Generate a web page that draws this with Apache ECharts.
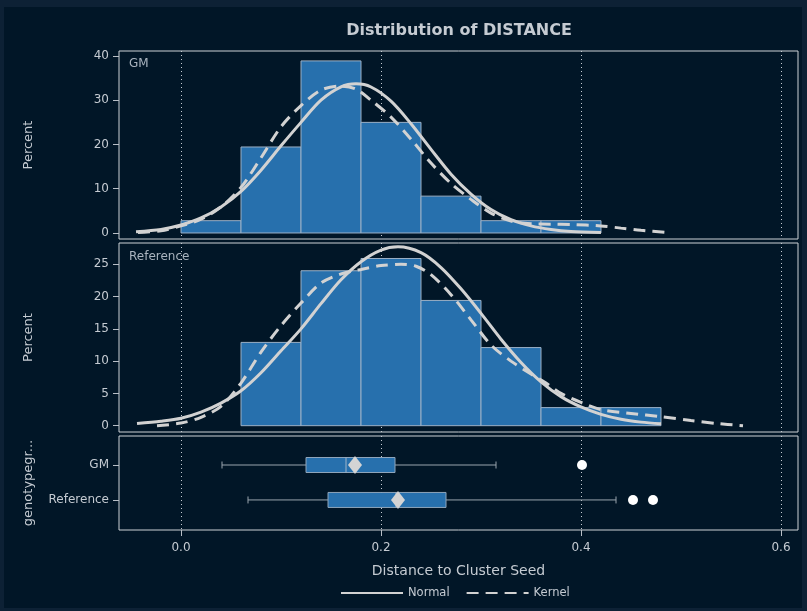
<!DOCTYPE html>
<html><head><meta charset="utf-8">
<script src="https://cdn.jsdelivr.net/npm/echarts@6/dist/echarts.min.js"></script>
<style>html,body{margin:0;padding:0;background:#0d2135}#c{width:807px;height:611px}</style>
</head><body><div id="c"></div>
<script>
// ---------- data ----------
const binEdges = [0, 0.06, 0.12, 0.18, 0.24, 0.30, 0.36, 0.42, 0.48];
const gmPercent = [2.78, 19.44, 38.89, 25.0, 8.33, 2.78, 2.78, 0];
const refPercent = [0, 12.9, 24.0, 25.9, 19.4, 12.1, 2.8, 2.8];

const gmNormal = [[-0.045,0.3],[-0.02,0.8],[0.0,1.8],[0.02,3.4],[0.04,5.9],[0.06,9.4],[0.08,14.2],[0.10,19.7],[0.12,25.0],[0.14,30.0],[0.16,33.0],[0.175,33.7],[0.19,33.0],[0.21,29.8],[0.23,24.7],[0.25,18.9],[0.27,13.3],[0.29,8.8],[0.31,5.3],[0.33,3.0],[0.35,1.6],[0.37,0.8],[0.39,0.35],[0.42,0.1]];
const gmKernel = [[-0.043,0.1],[-0.02,0.5],[0.0,1.6],[0.02,3.1],[0.04,5.9],[0.06,10.3],[0.08,17.0],[0.10,24.0],[0.12,28.8],[0.14,32.3],[0.16,33.2],[0.175,32.5],[0.19,30.0],[0.21,26.2],[0.23,21.2],[0.25,15.8],[0.27,11.2],[0.29,7.6],[0.31,4.5],[0.33,2.7],[0.35,2.1],[0.37,2.0],[0.39,1.9],[0.42,1.6],[0.44,1.1],[0.46,0.6],[0.487,0.1]];
const refNormal = [[-0.044,0.35],[-0.02,0.7],[0.0,1.15],[0.02,2.1],[0.04,3.5],[0.06,5.4],[0.08,8.2],[0.10,11.6],[0.12,15.0],[0.14,18.9],[0.16,22.6],[0.18,25.4],[0.20,27.2],[0.217,27.7],[0.24,26.8],[0.26,24.5],[0.28,21.2],[0.30,17.4],[0.32,13.4],[0.34,9.8],[0.36,6.8],[0.38,4.5],[0.40,2.9],[0.42,1.75],[0.44,1.0],[0.46,0.55],[0.48,0.3]];
const refKernel = [[-0.024,0.0],[0.0,0.4],[0.02,1.3],[0.04,3.0],[0.06,6.6],[0.08,11.4],[0.10,15.5],[0.12,19.0],[0.14,22.1],[0.16,23.5],[0.18,24.2],[0.20,24.8],[0.22,25.0],[0.235,24.7],[0.25,23.4],[0.27,20.3],[0.29,16.4],[0.31,12.5],[0.33,10.0],[0.35,8.0],[0.365,6.6],[0.38,5.0],[0.40,3.6],[0.42,2.5],[0.45,1.9],[0.48,1.4],[0.51,0.8],[0.535,0.35],[0.562,0.0]];

const groups = ['GM', 'Reference'];
const boxStats = [[0.041, 0.125, 0.165, 0.214, 0.315], [0.067, 0.147, 0.215, 0.265, 0.435]];
const boxMeans = [0.174, 0.217];
const outliers = [[0.401, 'GM'], [0.452, 'Reference'], [0.472, 'Reference']];

const xTicks = [0, 0.2, 0.4, 0.6];
const gmTicks = [0, 10, 20, 30, 40];
const refTicks = [0, 5, 10, 15, 20, 25];

// ---------- style ----------
const FONT = '"DejaVu Sans", sans-serif';
const TXT = '#c5cbd2';
const BAR_FILL = '#2770ad';
const BAR_STROKE = '#9bb0c6';
const CURVE = '#d2d2d2';
const BORDER = '#cdd1d6';

const chart = echarts.init(document.getElementById('c'), null, {renderer: 'canvas'});

function histData(pcts) {
  const out = [];
  pcts.forEach((p, i) => { if (p > 0) out.push([binEdges[i], binEdges[i + 1], p]); });
  return out;
}
function histRender(params, api) {
  const a = api.coord([api.value(0), api.value(2)]);
  const b = api.coord([api.value(1), 0]);
  return {type: 'rect', shape: {x: a[0], y: a[1], width: b[0] - a[0], height: b[1] - a[1]},
    style: {fill: BAR_FILL, stroke: BAR_STROKE, lineWidth: 1}};
}
function xAxisDef(gi, show) {
  return {
    type: 'value', gridIndex: gi, min: -0.062, max: 0.617,
    axisLine: {show: false, onZero: false},
    axisTick: {show: show, customValues: xTicks, length: 6, lineStyle: {color: '#b8bec6'}},
    axisLabel: {show: show, customValues: xTicks, formatter: v => v.toFixed(1), color: TXT, fontSize: 12, fontFamily: FONT, margin: 12},
    splitLine: {show: true, lineStyle: {type: [1, 3], color: '#c5cbd2', width: 1}},
    name: show ? 'Distance to Cluster Seed' : '', nameLocation: 'middle', nameGap: 34,
    nameTextStyle: {color: TXT, fontSize: 14, fontFamily: FONT}
  };
}
function yAxisDef(gi, min, max, ticks, name, extra) {
  return Object.assign({
    type: 'value', gridIndex: gi, min: min, max: max,
    axisLine: {show: false, onZero: false},
    axisTick: {show: true, customValues: ticks, length: 6, lineStyle: {color: '#b8bec6'}},
    axisLabel: {customValues: ticks, color: TXT, fontSize: 12, fontFamily: FONT, margin: 10},
    splitLine: {show: false},
    name: name, nameLocation: 'middle', nameRotate: 90, nameGap: 84,
    nameTextStyle: {color: TXT, fontSize: 13, fontFamily: FONT}
  }, extra || {});
}
const gridBase = {show: true, left: 119, right: 9, borderColor: BORDER, borderWidth: 1, backgroundColor: 'transparent', containLabel: false};

const lineSeries = (name, data, gi, dashed) => ({
  type: 'line', name: name, xAxisIndex: gi, yAxisIndex: gi, data: data, smooth: 0.3,
  symbol: 'none', z: 5, animation: false,
  lineStyle: {color: CURVE, width: 3, type: dashed ? [12, 7] : 'solid'},
  itemStyle: {color: CURVE}
});

const option = {
  backgroundColor: '#0d2135',
  animation: false,
  textStyle: {fontFamily: FONT},
  graphic: [
    {type: 'rect', z: -100, silent: true, shape: {x: 4, y: 7, width: 798, height: 601}, style: {fill: '#011627'}},
    {type: 'text', x: 459, y: 31, style: {text: 'Distribution of DISTANCE', fill: TXT, fontSize: 16, fontWeight: 'bold', fontFamily: FONT, align: 'center', verticalAlign: 'middle'}},
    {type: 'text', x: 129, y: 64, style: {text: 'GM', fill: '#aab4bf', fontSize: 12, fontFamily: FONT, align: 'left', verticalAlign: 'middle'}},
    {type: 'text', x: 129, y: 257, style: {text: 'Reference', fill: '#aab4bf', fontSize: 12, fontFamily: FONT, align: 'left', verticalAlign: 'middle'}}
  ],
  legend: {
    data: ['Normal', 'Kernel'], left: 340, top: 587, padding: 0, itemWidth: 62, itemHeight: 10, itemGap: 16,
    selectedMode: false, itemStyle: {opacity: 0},
    textStyle: {color: TXT, fontSize: 11.5, fontFamily: FONT}
  },
  grid: [
    Object.assign({}, gridBase, {top: 51, height: 188}),
    Object.assign({}, gridBase, {top: 243, height: 189}),
    Object.assign({}, gridBase, {top: 436, height: 94})
  ],
  xAxis: [xAxisDef(0, false), xAxisDef(1, false), xAxisDef(2, true)],
  yAxis: [
    yAxisDef(0, -1.36, 41.13, gmTicks, 'Percent'),
    yAxisDef(1, -0.98, 28.3, refTicks, 'Percent'),
    yAxisDef(2, 0.17, 2.86, [1, 2], 'genotypegr...', {
      inverse: true,
      axisLabel: {customValues: [1, 2], formatter: v => groups[Math.round(v) - 1] || '', color: TXT, fontSize: 12, fontFamily: FONT, margin: 10}
    })
  ],
  series: [
    {type: 'custom', xAxisIndex: 0, yAxisIndex: 0, data: histData(gmPercent), renderItem: histRender, encode: {x: [0, 1], y: 2}, z: 2},
    {type: 'custom', xAxisIndex: 1, yAxisIndex: 1, data: histData(refPercent), renderItem: histRender, encode: {x: [0, 1], y: 2}, z: 2},
    lineSeries('Normal', gmNormal, 0, false),
    lineSeries('Kernel', gmKernel, 0, true),
    lineSeries('Normal', refNormal, 1, false),
    lineSeries('Kernel', refKernel, 1, true),
    {
      type: 'custom', xAxisIndex: 2, yAxisIndex: 2, z: 3,
      data: groups.map((g, i) => [i + 1].concat(boxStats[i])),
      encode: {x: [1, 2, 3, 4, 5], y: 0},
      renderItem: function (params, api) {
        const yv = api.value(0);
        const lo = api.coord([api.value(1), yv]);
        const q1 = api.coord([api.value(2), yv]);
        const md = api.coord([api.value(3), yv]);
        const q3 = api.coord([api.value(4), yv]);
        const hi = api.coord([api.value(5), yv]);
        const cy = lo[1], h = 7.5, cap = 3.5;
        const ws = {stroke: '#9aa4ae', lineWidth: 1};
        return {type: 'group', children: [
          {type: 'line', shape: {x1: lo[0], y1: cy, x2: q1[0], y2: cy}, style: ws},
          {type: 'line', shape: {x1: q3[0], y1: cy, x2: hi[0], y2: cy}, style: ws},
          {type: 'line', shape: {x1: lo[0], y1: cy - cap, x2: lo[0], y2: cy + cap}, style: ws},
          {type: 'line', shape: {x1: hi[0], y1: cy - cap, x2: hi[0], y2: cy + cap}, style: ws},
          {type: 'rect', shape: {x: q1[0], y: cy - h, width: q3[0] - q1[0], height: 2 * h}, style: {fill: BAR_FILL, stroke: '#8fa5bb', lineWidth: 1}},
          {type: 'line', shape: {x1: md[0], y1: cy - h, x2: md[0], y2: cy + h}, style: {stroke: '#9fb4c9', lineWidth: 1}}
        ]};
      }
    },
    {type: 'scatter', xAxisIndex: 2, yAxisIndex: 2, z: 4, symbol: 'diamond', symbolSize: [14, 18],
      itemStyle: {color: '#d4d4d4', opacity: 1}, data: boxMeans.map((m, i) => [m, i + 1])},
    {type: 'scatter', xAxisIndex: 2, yAxisIndex: 2, z: 4, symbol: 'circle', symbolSize: 10,
      itemStyle: {color: '#ffffff', opacity: 1}, data: outliers.map(o => [o[0], groups.indexOf(o[1]) + 1])}
  ]
};
chart.setOption(option);
</script></body></html>
